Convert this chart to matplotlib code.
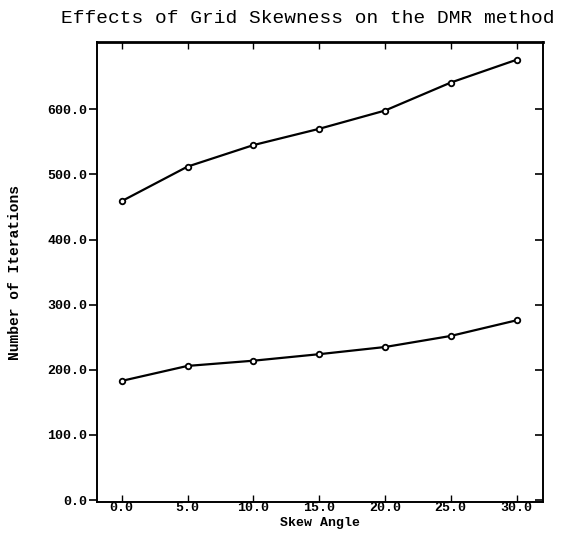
"""Effects of grid skewness on the DMR method."""
import matplotlib
matplotlib.use("Agg")
import matplotlib.pyplot as plt
from matplotlib.lines import TICKLEFT
from matplotlib.ticker import FormatStrFormatter

# skew angle in degrees
skew_angle = [0, 5, 10, 15, 20, 25, 30]
# number of iterations
upper_iters = [459, 512, 545, 570, 598, 641, 676]
lower_iters = [183, 206, 214, 224, 235, 252, 276]

x_ticks = [0, 5, 10, 15, 20, 25, 30]
y_ticks = [0, 100, 200, 300, 400, 500, 600]

mono = "Liberation Mono"

fig = plt.figure(figsize=(5.69, 5.41), dpi=100)
ax = fig.add_axes([0.170, 0.072, 0.784, 0.850])

for series in (upper_iters, lower_iters):
    ax.plot(skew_angle, series, color="black", linewidth=1.6,
            marker="o", markersize=4, markerfacecolor="white",
            markeredgecolor="black", markeredgewidth=1.3)

ax.set_xlim(-1.9, 32.0)
ax.set_ylim(-3, 703)
ax.set_xticks(x_ticks)
ax.set_yticks(y_ticks)
ax.xaxis.set_major_formatter(FormatStrFormatter("%.1f"))
ax.yaxis.set_major_formatter(FormatStrFormatter("%.1f"))

# left ticks stick out, right/top/bottom ones point inward
ax.tick_params(axis="y", left=True, right=True,
               direction="out", length=6, width=1.2, pad=1)
ax.tick_params(axis="x", top=True, bottom=True, direction="in",
               length=5, width=1.0, pad=0)
for t in ax.yaxis.get_major_ticks():
    t.tick2line.set_marker(TICKLEFT)
for lbl in ax.get_xticklabels() + ax.get_yticklabels():
    lbl.set_fontfamily(mono)
    lbl.set_fontweight("bold")
    lbl.set_fontsize(9.5)

for side in ("left", "right", "bottom"):
    ax.spines[side].set_linewidth(1.4)
ax.spines["top"].set_linewidth(2.0)

ax.set_xlabel("Skew Angle", family=mono, fontweight="bold",
              fontsize=9.5, labelpad=2)
fig.text(0.027, 0.497, "Number of Iterations", rotation=90,
         ha="center", va="center", family=mono, fontweight="bold",
         fontsize=10.5)
fig.text(0.54, 0.966, "Effects of Grid Skewness on the DMR method",
         ha="center", va="center", family=mono, fontsize=14)

fig.savefig("out.png", dpi=100)
